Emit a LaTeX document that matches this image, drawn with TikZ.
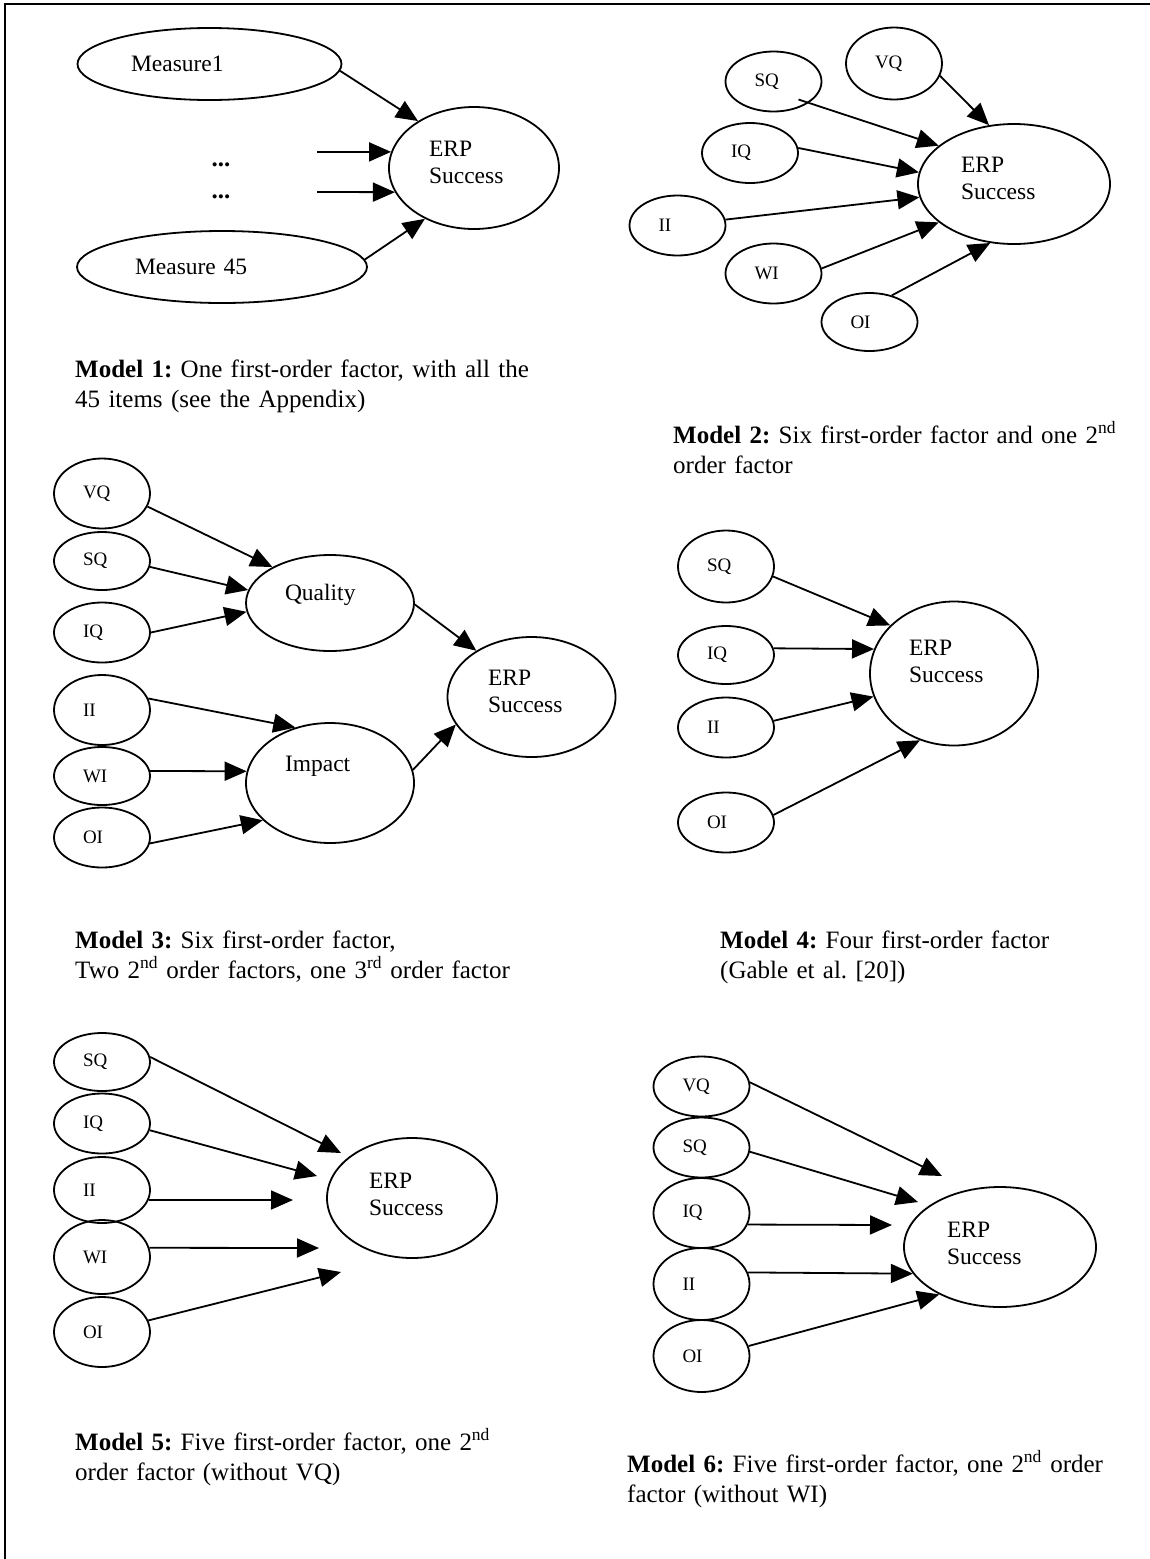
\documentclass[tikz,border=0pt]{standalone}
\usepackage{fontspec}
\setmainfont{Liberation Serif}
\usetikzlibrary{shapes.geometric, arrows.meta}

\begin{document}
\begin{tikzpicture}[x=1pt, y=-1pt, >={Triangle[length=22pt,width=19pt]},
    fac/.style={draw, ellipse, line width=1.8pt, inner sep=0pt, align=left},
    sml/.style={fac, text width=38pt, minimum width=96pt, minimum height=60pt, font=\fontsize{19}{22}\selectfont},
    bigfac/.style={fac, font=\fontsize{23.5}{27}\selectfont},
    erp/.style={bigfac, text depth=38pt, minimum height=120pt},
    dotlbl/.style={inner sep=0pt, font=\bfseries\fontsize{25}{30}\selectfont},
    lnk/.style={->, line width=1.8pt},
    captxt/.style={anchor=base west, inner sep=0pt, align=left, font=\fontsize{25}{30}\selectfont\frenchspacing}]

    \useasboundingbox (0,0) rectangle (1150,1559);
    \draw[line width=2.2pt] (1150,4) -- (5,4) -- (5,1559);

    % Model 1
    \node[bigfac, text width=157pt, minimum width=264pt, minimum height=72pt] (M1) at (209.5,64) {Measure1};
    \node[bigfac, text width=174pt, minimum width=290pt, minimum height=72pt] (M45) at (222,267) {Measure 45};
    \node[erp, text width=90pt, minimum width=170pt, minimum height=122pt] (E1) at (474,168) {ERP\\Success};
    \node[dotlbl] (D1) at (221,165) {...};
    \node[dotlbl] (D2) at (221,197) {...};
    \coordinate (d1) at (317,152);
    \coordinate (d2) at (317,192);

    \draw[lnk] (M1.-3) -- (E1.140);
    \draw[lnk] (d1) -- (E1.169);
    \draw[lnk] (d2) -- (E1.197);
    \draw[lnk] (M45.3) -- (E1.-134);

    \node[captxt, text width=470pt] (cap1) at (75,377)
        {\makebox[470pt][s]{\textbf{Model 1:} One first-order factor, with all the}\\45 items (see the Appendix)};

    % Model 2
    \node[sml, minimum height=72pt] (VQ2) at (894,63.5) {VQ};
    \node[sml] (SQ2) at (773.5,81.5) {SQ};
    \node[sml] (IQ2) at (750,153) {IQ};
    \node[sml] (II2) at (677.5,225.5) {II};
    \node[sml] (WI2) at (773.5,273.5) {WI};
    \node[sml, minimum height=58pt] (OI2) at (869.5,322) {OI};
    \node[erp, text width=106pt, minimum width=192pt] (E2) at (1014,184) {ERP\\Success};

    \draw[lnk] (VQ2.-15) -- (E2.113);
    \draw[lnk] ([shift={(25,18)}]SQ2.center) -- (E2.153);
    \draw[lnk] (IQ2.6) -- (E2.173);
    \draw[lnk] (II2.7) -- (E2.188);
    \draw[lnk] (WI2.6) -- (E2.207);
    \draw[lnk] (OI2.50) -- (E2.248);

    \node[captxt, text width=445pt] (cap2) at (673,443)
        {\makebox[445pt][s]{\textbf{Model 2:} Six first-order factor and one 2\textsuperscript{nd}}\\order factor};

    % Model 3
    \node[sml, minimum height=70pt] (VQ3) at (102,493.5) {VQ};
    \node[sml, minimum height=58pt] (SQ3) at (102,561) {SQ};
    \node[sml] (IQ3) at (102,632.5) {IQ};
    \node[sml, minimum height=70pt] (II3) at (102,710) {II};
    \node[sml, minimum height=58pt] (WI3) at (102,776) {WI};
    \node[sml] (OI3) at (102,837.5) {OI};
    \node[bigfac, text width=90pt, minimum width=168pt, minimum height=96pt, text depth=22pt] (Q3) at (330,603) {Quality};
    \node[bigfac, text width=90pt, minimum width=168pt, minimum height=120pt, text depth=38pt] (I3) at (330,783) {Impact};
    \node[erp, text width=87pt, minimum width=168pt] (E3) at (531.5,697) {ERP\\Success};

    \draw[lnk] (VQ3.-16) -- (Q3.148);
    \draw[lnk] (SQ3.-7) -- (Q3.171);
    \draw[lnk] (IQ3.east) -- (Q3.186);
    \draw[lnk] (II3.14) -- (I3.122);
    \draw[lnk] (WI3.6) -- (I3.172);
    \draw[lnk] (OI3.-7) -- (I3.209);
    \draw[lnk] (Q3.-1) -- (E3.140);
    \draw[lnk] (I3.9) -- (E3.200);

    \node[captxt, text width=480pt] (cap3) at (75,948)
        {\textbf{Model 3:} Six first-order factor,\\Two 2\textsuperscript{nd} order factors, one 3\textsuperscript{rd} order factor};

    % Model 4
    \node[sml, minimum height=72pt] (SQ4) at (726,566.5) {SQ};
    \node[sml, minimum height=58pt] (IQ4) at (726,655) {IQ};
    \node[sml] (II4) at (726,727.5) {II};
    \node[sml] (OI4) at (726,822.5) {OI};
    \node[erp, text width=90pt, minimum width=168pt, minimum height=144pt, text depth=52pt] (E4) at (954,673.5) {ERP\\Success};

    \draw[lnk] (SQ4.-12) -- (E4.143);
    \draw[lnk] (IQ4.8) -- (E4.163);
    \draw[lnk] (II4.8) -- (E4.196);
    \draw[lnk] (OI4.9) -- (E4.243);

    \node[captxt, text width=400pt] (cap4) at (720,948)
        {\textbf{Model 4:} Four first-order factor\\(Gable et al. [20])};

    % Model 5
    \node[sml, minimum height=58pt] (SQ5) at (102,1062) {SQ};
    \node[sml] (IQ5) at (102,1123.5) {IQ};
    \node[sml, minimum height=66pt] (II5) at (102,1190) {II};
    \node[sml, minimum height=74pt] (WI5) at (102,1257) {WI};
    \node[sml, minimum height=70pt] (OI5) at (102,1332) {OI};
    \node[erp, text width=86pt, minimum width=170pt, text depth=35pt] (E5) at (412,1198) {ERP\\Success};
    \coordinate (t5a) at (341,1153);
    \coordinate (t5b) at (317,1176);
    \coordinate (t5c) at (293,1200);
    \coordinate (t5d) at (319,1248);
    \coordinate (t5e) at (341,1272);

    \draw[lnk] (SQ5.6) -- (t5a);
    \draw[lnk] (IQ5.-8) -- (t5b);
    \draw[lnk] (II5.-12) -- (t5c);
    \draw[lnk] (WI5.11) -- (t5d);
    \draw[lnk] (OI5.14) -- (t5e);

    \node[captxt, text width=470pt] (cap5) at (75,1450)
        {\makebox[470pt][s]{\textbf{Model 5:} Five first-order factor, one 2\textsuperscript{nd}}\\order factor (without VQ)};

    % Model 6
    \node[sml] (VQ6) at (701.5,1086.5) {VQ};
    \node[sml] (SQ6) at (701.5,1147.5) {SQ};
    \node[sml, minimum height=70pt] (IQ6) at (701.5,1213) {IQ};
    \node[sml, minimum height=72pt] (II6) at (701.5,1284) {II};
    \node[sml, minimum height=72pt] (OI6) at (701.5,1356) {OI};
    \node[erp, text width=106pt, minimum width=192pt, text depth=35pt] (E6) at (1000,1247) {ERP\\Success};
    \coordinate (t6a) at (942,1176);
    \coordinate (t6b) at (918,1202);
    \coordinate (t6c) at (892,1225);

    \draw[lnk] (VQ6.5) -- (t6a);
    \draw[lnk] (SQ6.-5) -- (t6b);
    \draw[lnk] (IQ6.-14) -- (t6c);
    \draw[lnk] (II6.14) -- (E6.197);
    \draw[lnk] (OI6.12) -- (E6.218);

    \node[captxt, text width=510pt] (cap6) at (627,1472)
        {\textbf{Model 6:} Five first-order factor, one 2\textsuperscript{nd} order\\factor (without WI)};

\end{tikzpicture}
\end{document}
